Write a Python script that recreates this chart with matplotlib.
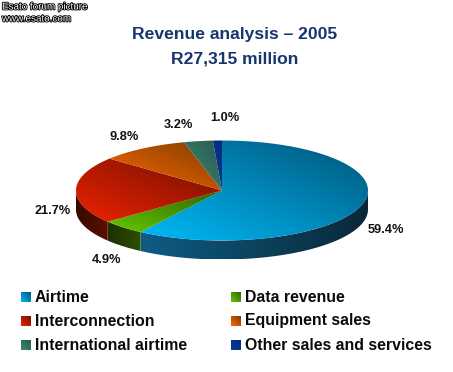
import numpy as np
import matplotlib
matplotlib.use("Agg")
import matplotlib.pyplot as plt
from matplotlib.patches import Polygon
from matplotlib.colors import LinearSegmentedColormap
import matplotlib.patheffects as pe

plt.rcParams['font.family'] = ['Liberation Sans', 'DejaVu Sans']

categories = ["Airtime", "Data revenue", "Interconnection", "Equipment sales",
              "International airtime", "Other sales and services"]
shares = [59.4, 4.9, 21.7, 9.8, 3.2, 1.0]
pct_labels = ["59.4%", "4.9%", "21.7%", "9.8%", "3.2%", "1.0%"]
# dark, bright top-face colours; wall colours
top_dark = ["#005478", "#2c6400", "#701000", "#7c3c00", "#285850", "#002a78"]
top_bright = ["#00baf8", "#66c800", "#ee2200", "#ff6a00", "#3c8c70", "#0a3c9e"]
wall_dark = ["#0a2838", "#1c3000", "#3a0800", "#603000", "#204030", "#001840"]
wall_bright = ["#0e5c84", "#2c5000", "#5a1000", "#803800", "#285040", "#002060"]
label_xy = [(386, 230), (106, 260), (53, 211), (124, 137), (178, 125), (225, 118)]

W, H = 453, 372
fig = plt.figure(figsize=(W / 100, H / 100), dpi=100)
ax = fig.add_axes([0, 0, 1, 1])
ax.set_xlim(0, W)
ax.set_ylim(H, 0)
ax.axis("off")

cx, cy, rx, ry, depth = 222, 190.5, 146, 50, 19


def grad(color0, color1, ext, clip, direction=(1, 1), z=2):
    """Linear gradient filling ext = (x0, x1, y0, y1), clipped to polygon."""
    x0, x1, y0, y1 = ext
    xs, ys = np.meshgrid(np.linspace(0, 1, 200), np.linspace(0, 1, 200))
    dx, dy = direction
    v = xs * dx + ys * dy
    v = (v - v.min()) / (v.max() - v.min())
    cmap = LinearSegmentedColormap.from_list("g", [color0, color1])
    patch = Polygon(clip, closed=True, transform=ax.transData, fc="none", ec="none")
    ax.add_patch(patch)
    im = ax.imshow(v, extent=(x0, x1, y1, y0), cmap=cmap, origin="upper",
                   aspect="auto", zorder=z, interpolation="bilinear")
    im.set_clip_path(patch)


def rim(a0, a1, n=120):
    t = np.radians(np.linspace(a0, a1, n))
    return cx + rx * np.sin(t), cy - ry * np.cos(t)


edges = np.cumsum([0] + shares) / sum(shares) * 360

# side walls (front half only)
for i in range(len(shares)):
    a0, a1 = max(edges[i], 90), min(edges[i + 1], 270)
    if a1 <= a0:
        continue
    x, y = rim(a0, a1)
    poly = np.column_stack([np.r_[x, x[::-1]], np.r_[y, y[::-1] + depth]])
    xlo, xhi = poly[:, 0].min(), poly[:, 0].max()
    if i == 0:
        grad(wall_bright[i], wall_dark[i], (xlo, xhi, cy, cy + ry + depth), poly, (1, 0))
    else:
        grad(wall_dark[i], wall_bright[i], (xlo, xhi, cy, cy + ry + depth), poly, (1, 0))

# top faces
for i in range(len(shares)):
    x, y = rim(edges[i], edges[i + 1])
    poly = np.column_stack([np.r_[cx, x], np.r_[cy, y]])
    xlo, xhi, ylo, yhi = poly[:, 0].min(), poly[:, 0].max(), poly[:, 1].min(), poly[:, 1].max()
    # bright towards the lower left, dark towards the upper right
    grad(top_bright[i], top_dark[i], (xlo, xhi, ylo, yhi), poly, (1, -1), z=3)

# percentage labels
for s, (lx, ly) in zip(pct_labels, label_xy):
    ax.text(lx, ly, s, fontsize=9.2, fontweight="bold", color="#111111",
            ha="center", va="center", zorder=5)

# titles
ax.text(235, 35, "Revenue analysis \u2013 2005", fontsize=12.6, fontweight="bold",
        color="#17356f", ha="center", va="center")
ax.text(235, 59.5, "R27,315 million", fontsize=12.6, fontweight="bold",
        color="#17356f", ha="center", va="center")

# watermark
for s, wy in (("Esato forum picture", 6.5), ("www.esato.com", 18.5)):
    ax.text(2, wy, s, fontsize=7.1, color="white", ha="left", va="center",
            path_effects=[pe.withStroke(linewidth=1.3, foreground="black")], zorder=6)

# legend
col_x = [21, 231]
row_y = [297, 321, 345]
order = [(0, 0, 0), (1, 1, 0), (2, 0, 1), (3, 1, 1), (4, 0, 2), (5, 1, 2)]
for i, c, r in order:
    x0, y0 = col_x[c], row_y[r] - 5
    sq = np.array([[x0, y0], [x0 + 10, y0], [x0 + 10, y0 + 10], [x0, y0 + 10]])
    grad(top_bright[i], top_dark[i], (x0, x0 + 10, y0, y0 + 10), sq, (1, -1), z=3)
    ax.text(x0 + 14, row_y[r], categories[i], fontsize=11.4, fontweight="bold",
            color="#0a0a0a", ha="left", va="center")

ax.set_xlim(0, W)
ax.set_ylim(H, 0)
fig.savefig("out.png", dpi=100, facecolor="white")
